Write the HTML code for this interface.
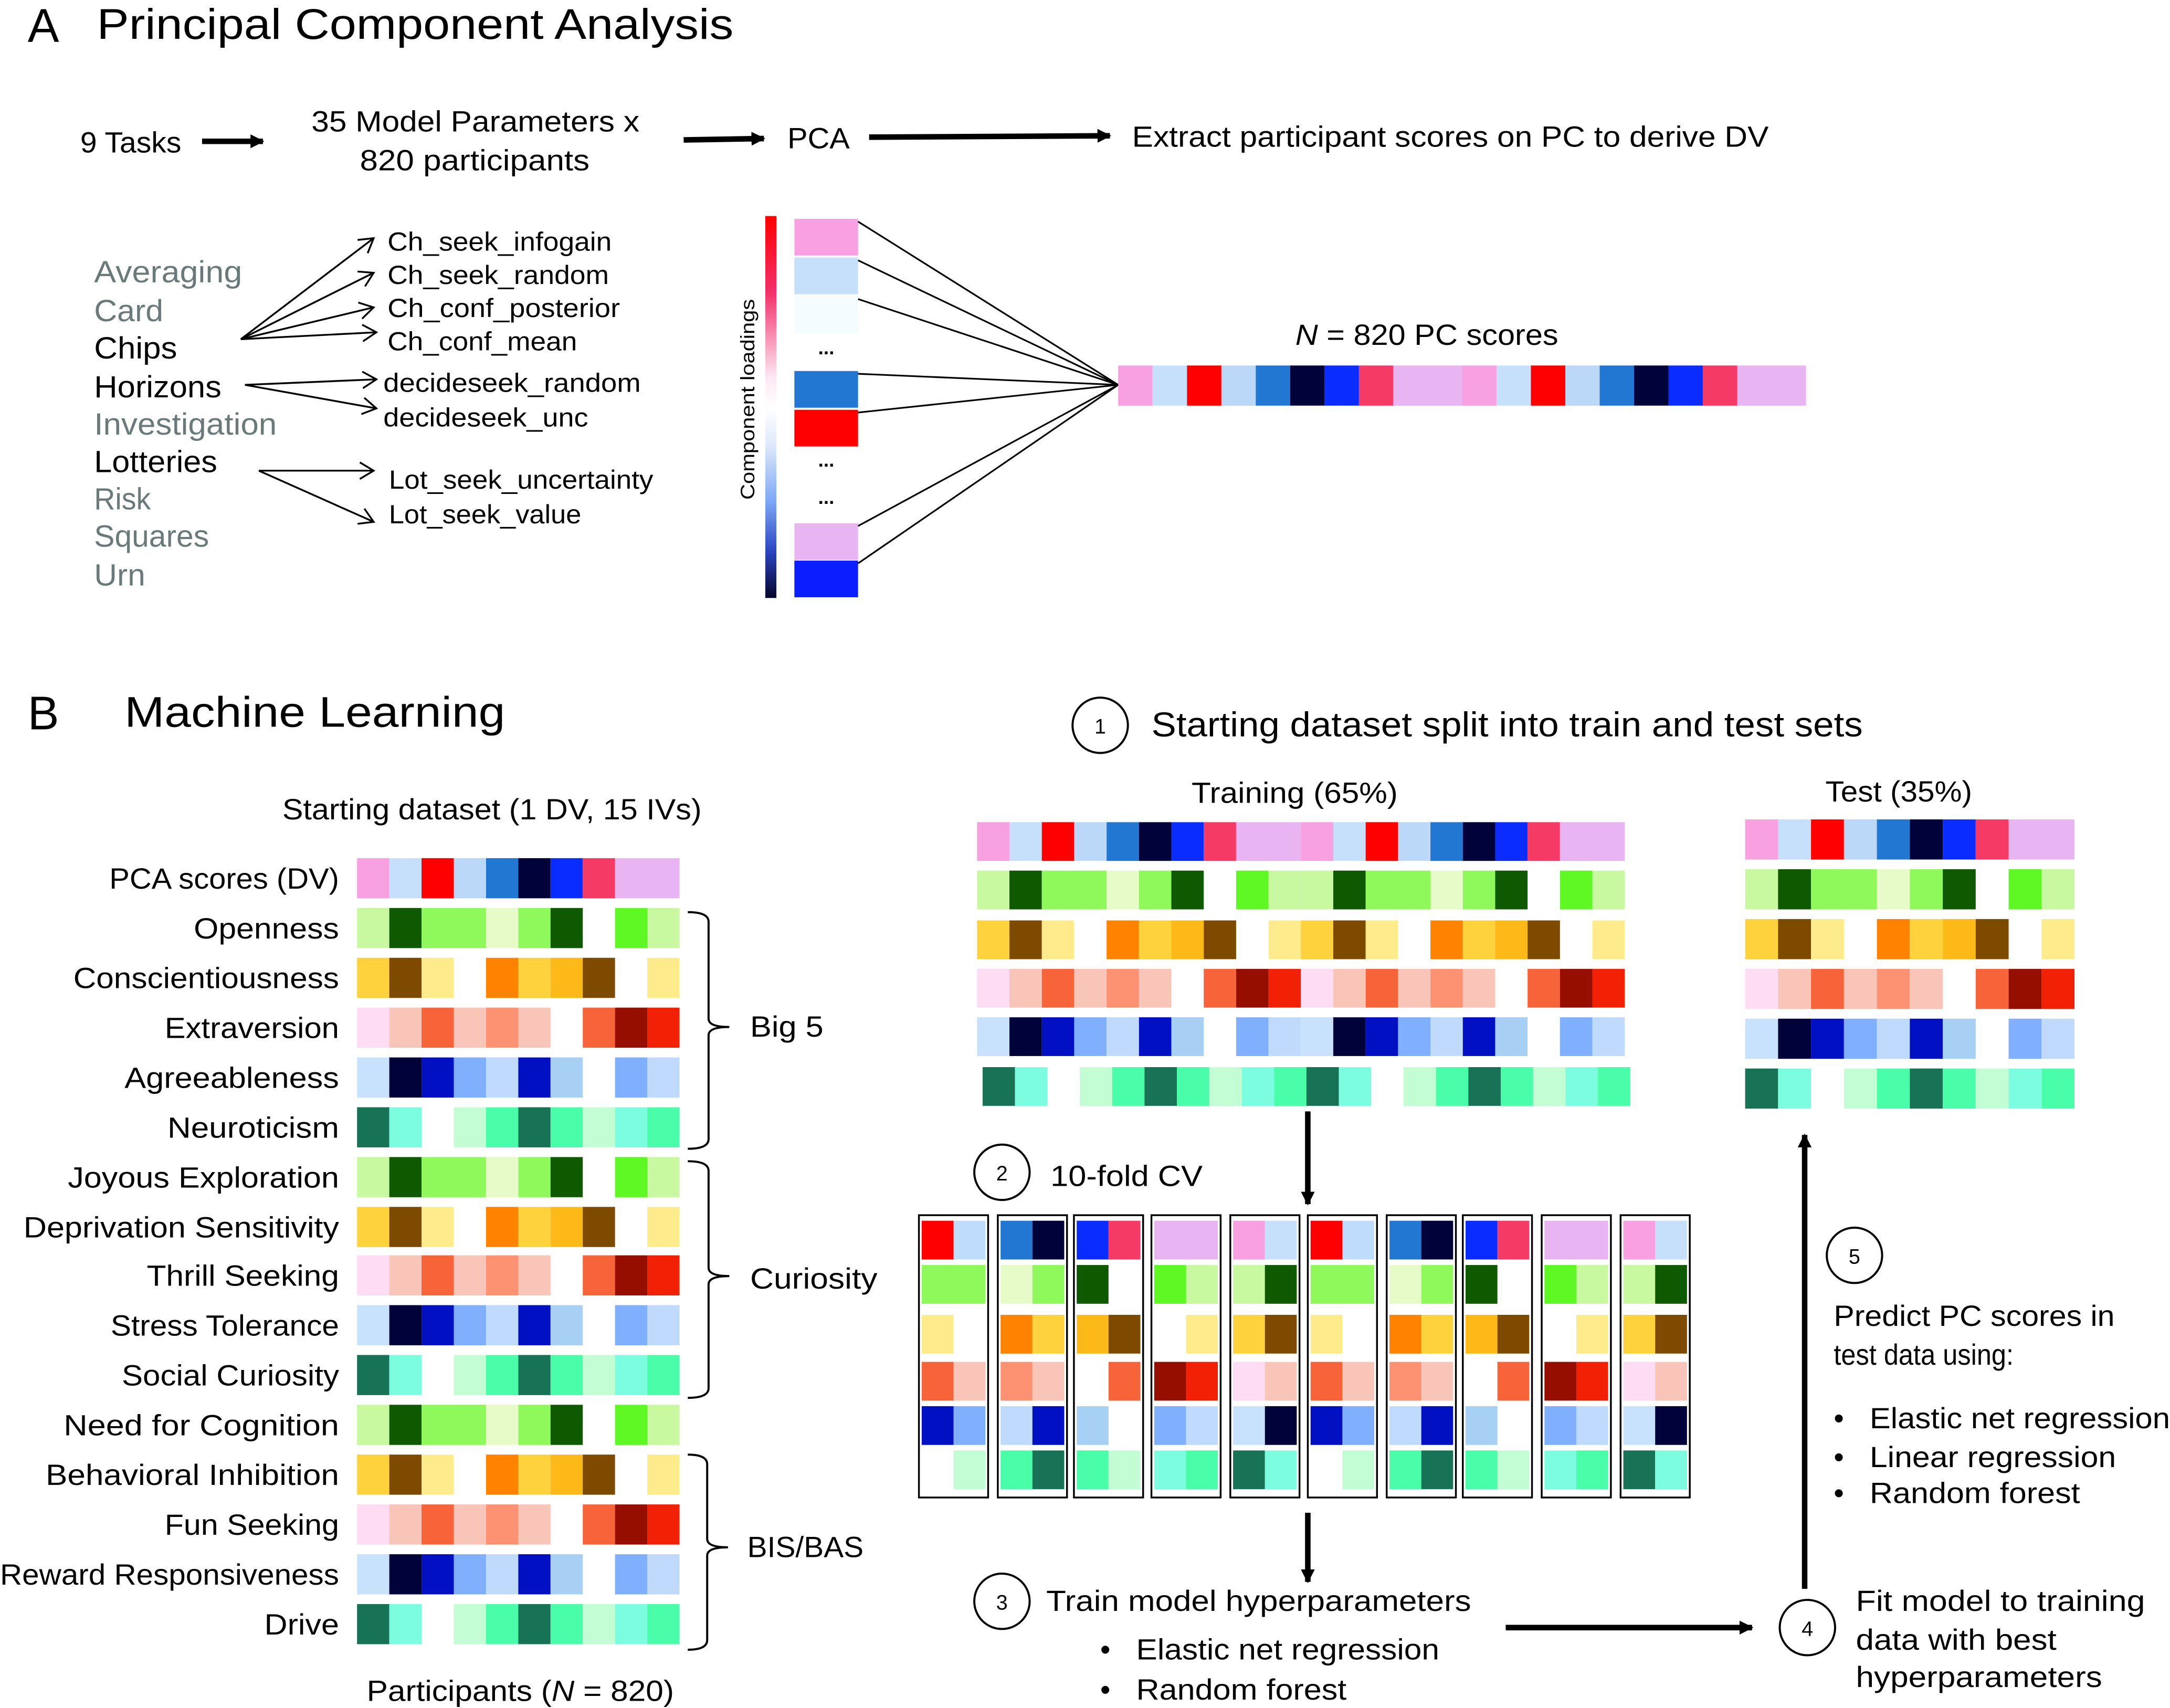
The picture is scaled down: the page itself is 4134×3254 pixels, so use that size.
<!DOCTYPE html>
<html><head><meta charset="utf-8"><style>
html,body{margin:0;padding:0;background:#fff;width:4134px;height:3254px;overflow:hidden}
svg text{font-family:"Liberation Sans",sans-serif;fill:#000}
</style></head><body>
<svg id="s" xmlns="http://www.w3.org/2000/svg" width="4134" height="3254" viewBox="0 0 1568 1234">
<defs>
<linearGradient id="lg" x1="0" y1="0" x2="0" y2="1">
<stop offset="0" stop-color="#ff0000"/><stop offset="0.2" stop-color="#f2306a"/><stop offset="0.42" stop-color="#fde6f2"/><stop offset="0.5" stop-color="#ffffff"/><stop offset="0.6" stop-color="#dfe9fb"/><stop offset="0.75" stop-color="#7aa6f5"/><stop offset="0.88" stop-color="#2a44c0"/><stop offset="1" stop-color="#05052a"/>
</linearGradient>
<marker id="ah" markerWidth="10" markerHeight="10" refX="9" refY="5" orient="auto" markerUnits="userSpaceOnUse"><path d="M0,0 L10,5 L0,10 z" fill="#000"/></marker>
<marker id="oh" markerWidth="14" markerHeight="14" refX="12" refY="7" orient="auto" markerUnits="userSpaceOnUse"><path d="M2,1 L12,7 L2,13" fill="none" stroke="#000" stroke-width="1.3"/></marker>
</defs>
<g id="cells"></g>
<!-- Panel A -->
<text x="20" y="30" font-size="34">A</text>
<text x="70" y="28" font-size="31" textLength="460" lengthAdjust="spacingAndGlyphs">Principal Component Analysis</text>
<text x="58" y="110" font-size="21" textLength="73" lengthAdjust="spacingAndGlyphs">9 Tasks</text>
<line x1="146" y1="102" x2="190" y2="102" stroke="#000" stroke-width="4" marker-end="url(#ah)"/>
<text x="225" y="95" font-size="21" textLength="237" lengthAdjust="spacingAndGlyphs">35 Model Parameters x</text>
<text x="260" y="123" font-size="21" textLength="166" lengthAdjust="spacingAndGlyphs">820 participants</text>
<line x1="494" y1="101" x2="552" y2="100" stroke="#000" stroke-width="4" marker-end="url(#ah)"/>
<text x="569" y="107" font-size="21" textLength="45" lengthAdjust="spacingAndGlyphs">PCA</text>
<line x1="628" y1="99" x2="802" y2="98" stroke="#000" stroke-width="4" marker-end="url(#ah)"/>
<text x="818" y="106" font-size="21" textLength="460" lengthAdjust="spacingAndGlyphs">Extract participant scores on PC to derive DV</text>
<g font-size="22">
<text x="68" y="204" style="fill:#6a7a7a" textLength="107" lengthAdjust="spacingAndGlyphs">Averaging</text>
<text x="68" y="232" style="fill:#6a7a7a" textLength="50" lengthAdjust="spacingAndGlyphs">Card</text>
<text x="68" y="259" textLength="60" lengthAdjust="spacingAndGlyphs">Chips</text>
<text x="68" y="287" textLength="92" lengthAdjust="spacingAndGlyphs">Horizons</text>
<text x="68" y="314" style="fill:#6a7a7a" textLength="132" lengthAdjust="spacingAndGlyphs">Investigation</text>
<text x="68" y="341" textLength="89" lengthAdjust="spacingAndGlyphs">Lotteries</text>
<text x="68" y="368" style="fill:#6a7a7a" textLength="41" lengthAdjust="spacingAndGlyphs">Risk</text>
<text x="68" y="395" style="fill:#6a7a7a" textLength="83" lengthAdjust="spacingAndGlyphs">Squares</text>
<text x="68" y="423" style="fill:#6a7a7a" textLength="37" lengthAdjust="spacingAndGlyphs">Urn</text>
</g>
<g font-size="19">
<text x="280" y="181" textLength="162" lengthAdjust="spacingAndGlyphs">Ch_seek_infogain</text>
<text x="280" y="205" textLength="160" lengthAdjust="spacingAndGlyphs">Ch_seek_random</text>
<text x="280" y="229" textLength="168" lengthAdjust="spacingAndGlyphs">Ch_conf_posterior</text>
<text x="280" y="253" textLength="137" lengthAdjust="spacingAndGlyphs">Ch_conf_mean</text>
<text x="277" y="283" textLength="186" lengthAdjust="spacingAndGlyphs">decideseek_random</text>
<text x="277" y="308" textLength="148" lengthAdjust="spacingAndGlyphs">decideseek_unc</text>
<text x="281" y="353" textLength="191" lengthAdjust="spacingAndGlyphs">Lot_seek_uncertainty</text>
<text x="281" y="378" textLength="139" lengthAdjust="spacingAndGlyphs">Lot_seek_value</text>
</g>
<g stroke="#000" stroke-width="1.3" fill="none">
<line x1="174" y1="245" x2="270" y2="172" marker-end="url(#oh)"/>
<line x1="174" y1="245" x2="270" y2="197" marker-end="url(#oh)"/>
<line x1="174" y1="245" x2="270" y2="222" marker-end="url(#oh)"/>
<line x1="174" y1="245" x2="272" y2="240" marker-end="url(#oh)"/>
<line x1="177" y1="278" x2="272" y2="274" marker-end="url(#oh)"/>
<line x1="177" y1="278" x2="272" y2="295" marker-end="url(#oh)"/>
<line x1="187" y1="340" x2="270" y2="340" marker-end="url(#oh)"/>
<line x1="187" y1="340" x2="270" y2="377" marker-end="url(#oh)"/>
</g>
<rect x="553" y="156" width="8" height="276" fill="url(#lg)"/>
<text transform="translate(545,361) rotate(-90)" font-size="14" textLength="145" lengthAdjust="spacingAndGlyphs">Component loadings</text>
<g font-size="14" font-weight="bold" text-anchor="middle">
<text x="597" y="256">...</text><text x="597" y="337">...</text><text x="597" y="364">...</text>
</g>
<text x="936" y="249" font-size="21" textLength="190" lengthAdjust="spacingAndGlyphs"><tspan font-style="italic">N</tspan> = 820 PC scores</text>
<!-- Panel B -->
<text x="20" y="527" font-size="34">B</text>
<text x="90" y="525" font-size="31" textLength="275" lengthAdjust="spacingAndGlyphs">Machine Learning</text>
<text x="204" y="592" font-size="21" textLength="303" lengthAdjust="spacingAndGlyphs">Starting dataset (1 DV, 15 IVs)</text>
<g font-size="21" text-anchor="end">
<text x="245" y="642" textLength="166" lengthAdjust="spacingAndGlyphs">PCA scores (DV)</text>
<text x="245" y="678" textLength="105" lengthAdjust="spacingAndGlyphs">Openness</text>
<text x="245" y="714" textLength="192" lengthAdjust="spacingAndGlyphs">Conscientiousness</text>
<text x="245" y="750" textLength="126" lengthAdjust="spacingAndGlyphs">Extraversion</text>
<text x="245" y="786" textLength="155" lengthAdjust="spacingAndGlyphs">Agreeableness</text>
<text x="245" y="822" textLength="124" lengthAdjust="spacingAndGlyphs">Neuroticism</text>
<text x="245" y="858" textLength="196" lengthAdjust="spacingAndGlyphs">Joyous Exploration</text>
<text x="245" y="894" textLength="228" lengthAdjust="spacingAndGlyphs">Deprivation Sensitivity</text>
<text x="245" y="929" textLength="139" lengthAdjust="spacingAndGlyphs">Thrill Seeking</text>
<text x="245" y="965" textLength="165" lengthAdjust="spacingAndGlyphs">Stress Tolerance</text>
<text x="245" y="1001" textLength="157" lengthAdjust="spacingAndGlyphs">Social Curiosity</text>
<text x="245" y="1037" textLength="199" lengthAdjust="spacingAndGlyphs">Need for Cognition</text>
<text x="245" y="1073" textLength="212" lengthAdjust="spacingAndGlyphs">Behavioral Inhibition</text>
<text x="245" y="1109" textLength="126" lengthAdjust="spacingAndGlyphs">Fun Seeking</text>
<text x="245" y="1145" textLength="245" lengthAdjust="spacingAndGlyphs">Reward Responsiveness</text>
<text x="245" y="1181" textLength="54" lengthAdjust="spacingAndGlyphs">Drive</text>
</g>
<text x="265" y="1229" font-size="21" textLength="222" lengthAdjust="spacingAndGlyphs">Participants (<tspan font-style="italic">N</tspan> = 820)</text>
<g stroke="#000" stroke-width="1.5" fill="none">
<path d="M497,659 Q512,659 512,666 L512,736 Q512,742 527,742 Q512,742 512,748 L512,823 Q512,830 497,830"/>
<path d="M497,839 Q512,839 512,846 L512,916 Q512,922 527,922 Q512,922 512,928 L512,1003 Q512,1010 497,1010"/>
<path d="M497,1051 Q511,1051 511,1058 L511,1112 Q511,1118 526,1118 Q511,1118 511,1124 L511,1185 Q511,1192 497,1192"/>
</g>
<g font-size="21">
<text x="542" y="749" textLength="53" lengthAdjust="spacingAndGlyphs">Big 5</text>
<text x="542" y="931" textLength="92" lengthAdjust="spacingAndGlyphs">Curiosity</text>
<text x="540" y="1125" textLength="84" lengthAdjust="spacingAndGlyphs">BIS/BAS</text>
</g>
<g fill="none" stroke="#000" stroke-width="1.5">
<circle cx="795" cy="524" r="20"/><circle cx="724" cy="847" r="20"/><circle cx="724" cy="1157" r="20"/><circle cx="1306" cy="1176" r="20"/><circle cx="1340" cy="907" r="20"/>
</g>
<g font-size="15" text-anchor="middle">
<text x="795" y="530">1</text><text x="724" y="853">2</text><text x="724" y="1163">3</text><text x="1306" y="1182">4</text><text x="1340" y="913">5</text>
</g>
<text x="832" y="532" font-size="25" textLength="514" lengthAdjust="spacingAndGlyphs">Starting dataset split into train and test sets</text>
<text x="861" y="580" font-size="21" textLength="149" lengthAdjust="spacingAndGlyphs">Training (65%)</text>
<text x="1319" y="579" font-size="21" textLength="106" lengthAdjust="spacingAndGlyphs">Test (35%)</text>
<text x="759" y="857" font-size="21" textLength="110" lengthAdjust="spacingAndGlyphs">10-fold CV</text>
<text x="756" y="1164" font-size="21" textLength="307" lengthAdjust="spacingAndGlyphs">Train model hyperparameters</text>
<g font-size="21">
<text x="795" y="1199">•</text><text x="821" y="1199" textLength="219" lengthAdjust="spacingAndGlyphs">Elastic net regression</text>
<text x="795" y="1228">•</text><text x="821" y="1228" textLength="152" lengthAdjust="spacingAndGlyphs">Random forest</text>
</g>
<g font-size="21">
<text x="1341" y="1164" textLength="209" lengthAdjust="spacingAndGlyphs">Fit model to training</text>
<text x="1341" y="1192" textLength="145" lengthAdjust="spacingAndGlyphs">data with best</text>
<text x="1341" y="1219" textLength="178" lengthAdjust="spacingAndGlyphs">hyperparameters</text>
<text x="1325" y="958" textLength="203" lengthAdjust="spacingAndGlyphs">Predict PC scores in</text>
<text x="1325" y="986" textLength="130" lengthAdjust="spacingAndGlyphs">test data using:</text>
<text x="1325" y="1032">•</text><text x="1351" y="1032" textLength="217" lengthAdjust="spacingAndGlyphs">Elastic net regression</text>
<text x="1325" y="1060">•</text><text x="1351" y="1060" textLength="178" lengthAdjust="spacingAndGlyphs">Linear regression</text>
<text x="1325" y="1086">•</text><text x="1351" y="1086" textLength="152" lengthAdjust="spacingAndGlyphs">Random forest</text>
</g>
<g stroke="#000" stroke-width="4">
<line x1="945" y1="803" x2="945" y2="870" marker-end="url(#ah)"/>
<line x1="945" y1="1093" x2="945" y2="1143" marker-end="url(#ah)"/>
<line x1="1088" y1="1176" x2="1266" y2="1176" marker-end="url(#ah)"/>
<line x1="1304" y1="1148" x2="1304" y2="820" marker-end="url(#ah)"/>
</g>
</svg>
<script>
var NS="http://www.w3.org/2000/svg",g=document.getElementById('cells');
function R(x,y,w,h,c,st){if(!c)return;var r=document.createElementNS(NS,'rect');r.setAttribute('x',x);r.setAttribute('y',y);r.setAttribute('width',w);r.setAttribute('height',h);r.setAttribute('fill',c);if(st){r.setAttribute('stroke',st);r.setAttribute('stroke-width',1.2);}g.appendChild(r);}
function L(x1,y1,x2,y2){var l=document.createElementNS(NS,'line');l.setAttribute('x1',x1);l.setAttribute('y1',y1);l.setAttribute('x2',x2);l.setAttribute('y2',y2);l.setAttribute('stroke','#000');l.setAttribute('stroke-width',1.2);g.appendChild(l);}
var P={
D:[['#f7a1e0',1],['#c6e0fb',1],['#ff0000',1],['#bcd8f8',1],['#2277d3',1],['#02023a',1],['#0a2cff',1],['#f53a66',1],['#e8b4f2',2]],
G:[['#c8f9a0',1],['#0f5a00',1],['#8ff85a',2],['#e6fbc8',1],['#8ff85a',1],['#0f5a00',1],[null,1],['#5ff825',1],['#c8f9a0',1]],
O:[['#fdd23c',1],['#7e4a00',1],['#fdeb8c',1],[null,1],['#ff8200',1],['#fdd23c',1],['#fdb918',1],['#7e4a00',1],[null,1],['#fdeb8c',1]],
Rr:[['#fddcf4',1],['#f9c5b8',1],['#f7643a',1],['#f9c5b8',1],['#fd9272',1],['#f9c5b8',1],[null,1],['#f7643a',1],['#960e00',1],['#f22004',1]],
B:[['#c8e2fd',1],['#02023a',1],['#0210c4',1],['#80b0fd',1],['#c0dafd',1],['#0210c4',1],['#a8d0f5',1],[null,1],['#80b0fd',1],['#c0dafd',1]],
T:[['#187256',1],['#7cfde0',1],[null,1],['#c2fdd4',1],['#4afda8',1],['#187256',1],['#4afda8',1],['#c2fdd4',1],['#7cfde0',1],['#4afda8',1]]};
function row(p,x0,y,cw,h){var x=x0;p.forEach(function(c){R(x,y,cw*c[1],h,c[0]);x+=cw*c[1];});}
var cc=[[158,'#f9a0e2'],[186,'#c6e0fb'],[214,'#f4fcfd'],[268,'#2277d3'],[296,'#ff0000'],[378,'#e8b4f2'],[405,'#0a1eff']];
cc.forEach(function(c){R(574,c[0],46,26.5,c[1]);L(620,c[0]+2,808,278);});
row(P.D,808,264,24.85,29);row(P.D,808+248.5,264,24.85,29);
var seq=['D','G','O','Rr','B','T','G','O','Rr','B','T','G','O','Rr','B','T'];
var ys=[620,656,692,728,764,800,836,872,907,943,979,1015,1051,1087,1123,1159];
seq.forEach(function(k,i){row(P[k],258,ys[i],23.3,29);});
var ty=[594,629,665,700,735,771];var ts=['D','G','O','Rr','B','T'];
ts.forEach(function(k,i){var x0=(k=='T')?710:706;row(P[k],x0,ty[i],23.4,28);row(P[k],x0+234,ty[i],23.4,28);});
var sy=[592,628,664,700,736,772];
ts.forEach(function(k,i){row(P[k],1261,sy[i],23.8,29);});
var F1=[['#ff0000','#c0dcfd'],['#8ff85a','#8ff85a'],['#fdeb8c',null],['#f7643a','#f9c5b8'],['#0210c4','#80b0fd'],[null,'#c2fdd4']];
var F2=[['#2277d3','#02023a'],['#e6fbc8','#8ff85a'],['#ff8200','#fdd23c'],['#fd9272','#f9c5b8'],['#c0dafd','#0210c4'],['#4afda8','#187256']];
var F3=[['#0a2cff','#f53a66'],['#0f5a00',null],['#fdb918','#7e4a00'],[null,'#f7643a'],['#a8d0f5',null],['#4afda8','#c2fdd4']];
var F4=[['#e8b4f2','#e8b4f2'],['#5ff825','#c8f9a0'],[null,'#fdeb8c'],['#960e00','#f22004'],['#80b0fd','#c0dafd'],['#7cfde0','#4afda8']];
var F5=[['#f9a0e2','#c6e0fb'],['#c8f9a0','#0f5a00'],['#fdd23c','#7e4a00'],['#fddcf4','#f9c5b8'],['#c8e2fd','#02023a'],['#187256','#7cfde0']];
var FS=[F1,F2,F3,F4,F5,F1,F2,F3,F4,F5];
var fx=[664,721,776,832,889,945,1002,1057,1114,1171];
var fy=[882,914,950,984,1016,1048];
fx.forEach(function(x,i){var r=document.createElementNS(NS,'rect');r.setAttribute('x',x);r.setAttribute('y',878);r.setAttribute('width',50);r.setAttribute('height',204);r.setAttribute('fill','#fff');r.setAttribute('stroke','#000');r.setAttribute('stroke-width',1.3);g.appendChild(r);
FS[i].forEach(function(p,j){R(x+2,fy[j],23,28,p[0]);R(x+25,fy[j],23,28,p[1]);});});
</script>
</body></html>
